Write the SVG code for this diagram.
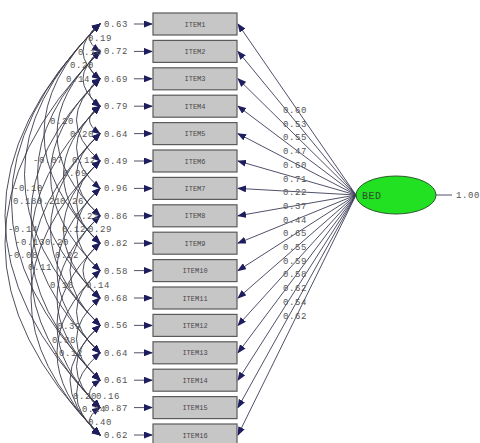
<svg xmlns="http://www.w3.org/2000/svg" width="480" height="443" viewBox="0 0 480 443">
<style>
.box{fill:#c6c6c6;stroke:#5a5a5a;stroke-width:1.2}
.bt{font-family:"Liberation Mono",monospace;font-size:7px;fill:#4a4a4a;text-anchor:middle}
.num{font-family:"Liberation Mono",monospace;font-size:9px;fill:#555;letter-spacing:0.6px}
.ln{fill:none;stroke:#3c3c58;stroke-width:0.9}
.arc{fill:none;stroke:#3a3a4a;stroke-width:0.9}
</style>
<defs>
<marker id="ah" markerUnits="userSpaceOnUse" markerWidth="9" markerHeight="7" refX="8" refY="3.5" orient="auto-start-reverse">
<path d="M0,0 L9,3.5 L0,7 z" fill="#1e1e5e"/>
</marker>
</defs>
<rect width="480" height="443" fill="#fff"/>
<g id="connectors">
<!-- error arrows -->
<g class="ln" marker-end="url(#ah)">
<line x1="134" y1="24" x2="152" y2="24"/>
<line x1="134" y1="51.4" x2="152" y2="51.4"/>
<line x1="134" y1="78.8" x2="152" y2="78.8"/>
<line x1="134" y1="106.2" x2="152" y2="106.2"/>
<line x1="134" y1="133.6" x2="152" y2="133.6"/>
<line x1="134" y1="161" x2="152" y2="161"/>
<line x1="134" y1="188.4" x2="152" y2="188.4"/>
<line x1="134" y1="215.8" x2="152" y2="215.8"/>
<line x1="134" y1="243.2" x2="152" y2="243.2"/>
<line x1="134" y1="270.6" x2="152" y2="270.6"/>
<line x1="134" y1="298" x2="152" y2="298"/>
<line x1="134" y1="325.4" x2="152" y2="325.4"/>
<line x1="134" y1="352.8" x2="152" y2="352.8"/>
<line x1="134" y1="380.2" x2="152" y2="380.2"/>
<line x1="134" y1="407.6" x2="152" y2="407.6"/>
<line x1="134" y1="435" x2="152" y2="435"/>
</g>
<!-- loadings -->
<g class="ln" marker-end="url(#ah)">
<line x1="356" y1="195" x2="238" y2="24"/>
<line x1="356" y1="195" x2="238" y2="51.4"/>
<line x1="356" y1="195" x2="238" y2="78.8"/>
<line x1="356" y1="195" x2="238" y2="106.2"/>
<line x1="356" y1="195" x2="238" y2="133.6"/>
<line x1="356" y1="195" x2="238" y2="161"/>
<line x1="356" y1="195" x2="238" y2="188.4"/>
<line x1="356" y1="195" x2="238" y2="215.8"/>
<line x1="356" y1="195" x2="238" y2="243.2"/>
<line x1="356" y1="195" x2="238" y2="270.6"/>
<line x1="356" y1="195" x2="238" y2="298"/>
<line x1="356" y1="195" x2="238" y2="325.4"/>
<line x1="356" y1="195" x2="238" y2="352.8"/>
<line x1="356" y1="195" x2="238" y2="380.2"/>
<line x1="356" y1="195" x2="238" y2="407.6"/>
<line x1="356" y1="195" x2="238" y2="435"/>
</g>
<line class="ln" x1="436" y1="195" x2="452" y2="195"/>
<!-- correlated errors -->
<g class="arc" marker-start="url(#ah)" marker-end="url(#ah)">
<path d="M100,24 Q-90,215.8 100,407.6"/>
<path d="M100,24 Q-77,202.1 100,380.2"/>
<path d="M100,24 Q-51,174.7 100,325.4"/>
<path d="M100,24 Q-12,133.6 100,243.2"/>
<path d="M100,51.4 Q-90,243.2 100,435"/>
<path d="M100,51.4 Q-25,174.7 100,298"/>
<path d="M100,51.4 Q14,133.6 100,215.8"/>
<path d="M100,78.8 Q-38,215.8 100,352.8"/>
<path d="M100,78.8 Q1,174.7 100,270.6"/>
<path d="M100,78.8 Q53,119.9 100,161"/>
<path d="M100,106.2 Q-38,243.2 100,380.2"/>
<path d="M100,106.2 Q27,174.7 100,243.2"/>
<path d="M100,106.2 Q53,147.3 100,188.4"/>
<path d="M100,133.6 Q-38,270.6 100,407.6"/>
<path d="M100,133.6 Q1,229.5 100,325.4"/>
<path d="M100,133.6 Q53,174.7 100,215.8"/>
<path d="M100,161 Q-38,298 100,435"/>
<path d="M100,161 Q27,229.5 100,298"/>
<path d="M100,161 Q53,202.1 100,243.2"/>
<path d="M100,188.4 Q14,270.6 100,352.8"/>
<path d="M100,188.4 Q53,229.5 100,270.6"/>
<path d="M100,215.8 Q14,298 100,380.2"/>
<path d="M100,215.8 Q40,270.6 100,325.4"/>
<path d="M100,243.2 Q14,325.4 100,407.6"/>
<path d="M100,243.2 Q66,270.6 100,298"/>
<path d="M100,270.6 Q14,352.8 100,435"/>
<path d="M100,270.6 Q53,311.7 100,352.8"/>
<path d="M100,298 Q53,339.1 100,380.2"/>
<path d="M100,325.4 Q53,366.5 100,407.6"/>
<path d="M100,325.4 Q40,380.2 100,435"/>
<path d="M100,352.8 Q53,393.9 100,435"/>
<path d="M100,380.2 Q79,393.9 100,407.6"/>
<path d="M100,407.6 Q79,421.3 100,435"/>
<path d="M100,24 Q79,37.7 100,51.4"/>
<path d="M100,51.4 Q79,65.1 100,78.8"/>
<path d="M100,78.8 Q79,92.5 100,106.2"/>
<path d="M100,106.2 Q79,119.9 100,133.6"/>
<path d="M100,24 Q66,51.4 100,78.8"/>
<path d="M100,51.4 Q66,78.8 100,106.2"/>
</g>
</g>
<g id="error-labels" class="num">
<text x="104" y="27">0.63</text>
<text x="104" y="54.4">0.72</text>
<text x="104" y="81.8">0.69</text>
<text x="104" y="109.2">0.79</text>
<text x="104" y="136.6">0.64</text>
<text x="104" y="164">0.49</text>
<text x="104" y="191.4">0.96</text>
<text x="104" y="218.8">0.86</text>
<text x="104" y="246.2">0.82</text>
<text x="104" y="273.6">0.58</text>
<text x="104" y="301">0.68</text>
<text x="104" y="328.4">0.56</text>
<text x="104" y="355.8">0.64</text>
<text x="104" y="383.2">0.61</text>
<text x="104" y="410.6">0.87</text>
<text x="104" y="438">0.62</text>
</g>
<g id="correlation-labels" class="num">
<text x="88" y="41">0.19</text>
<text x="78" y="55">0.10</text>
<text x="70" y="68">0.20</text>
<text x="66" y="82">0.14</text>
<text x="50" y="124">0.20</text>
<text x="70" y="137">0.20</text>
<text x="33" y="163">-0.07</text>
<text x="72" y="163">0.12</text>
<text x="63" y="176">0.09</text>
<text x="13" y="191">-0.10</text>
<text x="13" y="204">0.18</text>
<text x="37" y="204">0.21</text>
<text x="60" y="204">0.26</text>
<text x="75" y="219">0.21</text>
<text x="8" y="232">-0.14</text>
<text x="62" y="232">0.12</text>
<text x="88" y="232">0.29</text>
<text x="15" y="245">-0.13</text>
<text x="45" y="245">0.20</text>
<text x="8" y="258">-0.08</text>
<text x="55" y="258">0.22</text>
<text x="28" y="270">0.11</text>
<text x="50" y="288">0.16</text>
<text x="86" y="288">0.14</text>
<text x="57" y="329">0.39</text>
<text x="52" y="343">0.38</text>
<text x="53" y="356">-0.12</text>
<text x="73" y="399">0.20</text>
<text x="96" y="399">0.16</text>
<text x="82" y="412">0.14</text>
<text x="88" y="425">0.40</text>
</g>
<g id="loading-labels" class="num">
<text x="283" y="113">0.60</text>
<text x="283" y="126.7">0.53</text>
<text x="283" y="140.4">0.55</text>
<text x="283" y="154.1">0.47</text>
<text x="283" y="167.8">0.60</text>
<text x="283" y="181.5">0.71</text>
<text x="283" y="195.2">0.22</text>
<text x="283" y="208.9">0.37</text>
<text x="283" y="222.6">0.44</text>
<text x="283" y="236.3">0.65</text>
<text x="283" y="250">0.55</text>
<text x="283" y="263.7">0.59</text>
<text x="283" y="277.4">0.58</text>
<text x="283" y="291.1">0.62</text>
<text x="283" y="304.8">0.54</text>
<text x="283" y="318.5">0.62</text>
</g>
<g id="item1"><rect class="box" x="153" y="13" width="84" height="22"/><text class="bt" x="195" y="26.5">ITEM1</text></g>
<g id="item2"><rect class="box" x="153" y="40.4" width="84" height="22"/><text class="bt" x="195" y="53.9">ITEM2</text></g>
<g id="item3"><rect class="box" x="153" y="67.8" width="84" height="22"/><text class="bt" x="195" y="81.3">ITEM3</text></g>
<g id="item4"><rect class="box" x="153" y="95.2" width="84" height="22"/><text class="bt" x="195" y="108.7">ITEM4</text></g>
<g id="item5"><rect class="box" x="153" y="122.6" width="84" height="22"/><text class="bt" x="195" y="136.1">ITEM5</text></g>
<g id="item6"><rect class="box" x="153" y="150" width="84" height="22"/><text class="bt" x="195" y="163.5">ITEM6</text></g>
<g id="item7"><rect class="box" x="153" y="177.4" width="84" height="22"/><text class="bt" x="195" y="190.9">ITEM7</text></g>
<g id="item8"><rect class="box" x="153" y="204.8" width="84" height="22"/><text class="bt" x="195" y="218.3">ITEM8</text></g>
<g id="item9"><rect class="box" x="153" y="232.2" width="84" height="22"/><text class="bt" x="195" y="245.7">ITEM9</text></g>
<g id="item10"><rect class="box" x="153" y="259.6" width="84" height="22"/><text class="bt" x="195" y="273.1">ITEM10</text></g>
<g id="item11"><rect class="box" x="153" y="287" width="84" height="22"/><text class="bt" x="195" y="300.5">ITEM11</text></g>
<g id="item12"><rect class="box" x="153" y="314.4" width="84" height="22"/><text class="bt" x="195" y="327.9">ITEM12</text></g>
<g id="item13"><rect class="box" x="153" y="341.8" width="84" height="22"/><text class="bt" x="195" y="355.3">ITEM13</text></g>
<g id="item14"><rect class="box" x="153" y="369.2" width="84" height="22"/><text class="bt" x="195" y="382.7">ITEM14</text></g>
<g id="item15"><rect class="box" x="153" y="396.6" width="84" height="22"/><text class="bt" x="195" y="410.1">ITEM15</text></g>
<g id="item16"><rect class="box" x="153" y="424" width="84" height="22"/><text class="bt" x="195" y="437.5">ITEM16</text></g>
<g id="bed">
<ellipse cx="396" cy="195" rx="40" ry="19" fill="#22e022" stroke="#2a5a2a" stroke-width="1"/>
<text x="362" y="199" font-family="Liberation Mono, monospace" font-size="10" fill="#2f4f2f" letter-spacing="0.5">BED</text>
</g>
<text class="num" x="456" y="198">1.00</text>
</svg>
